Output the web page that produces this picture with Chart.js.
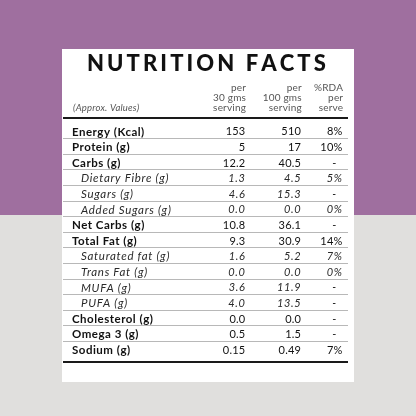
<!DOCTYPE html>
<html>
<head>
<meta charset="utf-8">
<script src="https://cdn.jsdelivr.net/npm/chart.js@4.4.0/dist/chart.umd.min.js"></script>
<style>
  html, body { margin: 0; padding: 0; background: #e0dfdd; }
  canvas { display: block; }
</style>
</head>
<body>
<canvas id="facts-chart" width="416" height="416"></canvas>
<script>
// table data
var nutrients = ['Energy (Kcal)', 'Protein (g)', 'Carbs (g)', 'Dietary Fibre (g)', 'Sugars (g)',
  'Added Sugars (g)', 'Net Carbs (g)', 'Total Fat (g)', 'Saturated fat (g)', 'Trans Fat (g)',
  'MUFA (g)', 'PUFA (g)', 'Cholesterol (g)', 'Omega 3 (g)', 'Sodium (g)'];
var subItem = [0, 0, 0, 1, 1, 1, 0, 0, 1, 1, 1, 1, 0, 0, 0];
var per30 = [153, 5, 12.2, 1.3, 4.6, 0.0, 10.8, 9.3, 1.6, 0.0, 3.6, 4.0, 0.0, 0.5, 0.15];
var per100 = [510, 17, 40.5, 4.5, 15.3, 0.0, 36.1, 30.9, 5.2, 0.0, 11.9, 13.5, 0.0, 1.5, 0.49];
var decimals = [0, 0, 1, 1, 1, 1, 1, 1, 1, 1, 1, 1, 1, 1, 2];
var rda = [8, 10, null, 5, null, 0, null, 14, 7, 0, null, null, null, null, 7];
var colHeads = [['per', '30 gms', 'serving'], ['per', '100 gms', 'serving'], ['%RDA', 'per', 'serve']];
var title = 'NUTRITION FACTS';
var note = '(Approx. Values)';

// where each column sits on the x scale (0..100)
var colX = { name: 0, per30: 64.1, per100: 84.7, rda: 100 };

function points(col, values) {
  return values.map(function (v, i) {
    return { x: colX[col], y: nutrients[i], v: v, row: i };
  });
}

function fmt(v, d) {
  if (v === null) return '-';
  return v.toFixed(d);
}

function spaced(ctx, px) {
  if ('letterSpacing' in ctx) ctx.letterSpacing = px + 'px';
}

var tablePlugin = {
  id: 'tablePlugin',
  beforeDraw: function (chart) {
    var ctx = chart.ctx;
    ctx.save();
    ctx.fillStyle = '#9f6f9f';
    ctx.fillRect(0, 0, 416, 215);
    ctx.fillStyle = '#e0dfdd';
    ctx.fillRect(0, 215, 416, 201);
    ctx.fillStyle = '#ffffff';
    ctx.fillRect(62, 49, 292, 333);
    ctx.restore();
  },
  afterDatasetsDraw: function (chart) {
    var ctx = chart.ctx;
    var xs = chart.scales.x;
    var ys = chart.scales.y;
    ctx.save();

    // title, spread out to its width
    ctx.fillStyle = '#111';
    ctx.font = '900 22px Lato, "DejaVu Sans", sans-serif';
    ctx.textBaseline = 'middle';
    ctx.textAlign = 'left';
    var plain = ctx.measureText(title).width;
    var gap = (237 - plain) / (title.length - 1);
    var tx = 87;
    for (var c = 0; c < title.length; c++) {
      ctx.fillText(title[c], tx, 64);
      tx += ctx.measureText(title[c]).width + gap;
    }

    // column headings
    ctx.fillStyle = '#555';
    ctx.font = '10px Lato, sans-serif';
    spaced(ctx, 0.2);
    ctx.textAlign = 'right';
    var headX = [colX.per30, colX.per100, colX.rda];
    var headY = [88, 97.5, 107.5];
    colHeads.forEach(function (lines, k) {
      var px = xs.getPixelForValue(headX[k]) + 0.7;
      lines.forEach(function (t, j) {
        ctx.fillText(t, px, headY[j]);
      });
    });
    ctx.textAlign = 'left';
    ctx.font = 'italic 9.5px Lato, sans-serif';
    ctx.fillText(note, 73, 108);

    // rules
    var left = 63, right = 348;
    ctx.fillStyle = '#b8b8b8';
    for (var i = 0; i < nutrients.length - 1; i++) {
      var yb = (ys.getPixelForValue(i) + ys.getPixelForValue(i + 1)) / 2 - 1.5;
      ctx.fillRect(left, Math.round(yb), right - left, 1);
    }
    ctx.fillStyle = '#1a1a1a';
    ctx.fillRect(left, 117, right - left, 2);
    ctx.fillRect(left, 361, right - left, 2);

    // cells
    chart.data.datasets.forEach(function (ds, di) {
      var meta = chart.getDatasetMeta(di);
      meta.data.forEach(function (pt, i) {
        var d = ds.data[i];
        var sub = subItem[d.row] === 1;
        ctx.fillStyle = sub ? '#2a2a2a' : '#111';
        if (ds.kind === 'name') {
          ctx.textAlign = 'left';
          ctx.font = sub ? 'italic 11.5px Lato, sans-serif' : 'bold 11.5px Lato, sans-serif';
          spaced(ctx, sub ? 0.7 : 0.5);
          ctx.fillText(d.v, pt.x + (sub ? 9 : 0), pt.y);
        } else {
          var txt = ds.kind === 'rda' ? (d.v === null ? '-' : d.v + '%') : fmt(d.v, decimals[d.row]);
          ctx.font = (sub ? 'italic ' : '') + '11px Lato, sans-serif';
          spaced(ctx, sub ? 0.6 : 0.2);
          if (txt === '-') {
            ctx.textAlign = 'center';
            ctx.fillText(txt, ds.kind === 'rda' ? pt.x - 8 : pt.x - 4, pt.y);
          } else {
            ctx.textAlign = 'right';
            ctx.fillText(txt, pt.x, pt.y);
          }
        }
      });
    });
    ctx.restore();
  }
};

var ctx = document.getElementById('facts-chart').getContext('2d');
var factsChart = new Chart(ctx, {
  type: 'scatter',
  data: {
    datasets: [
      { label: 'Nutrient', kind: 'name', data: points('name', nutrients), pointRadius: 0 },
      { label: 'per 30 gms serving', kind: 'per30', data: points('per30', per30), pointRadius: 0 },
      { label: 'per 100 gms serving', kind: 'per100', data: points('per100', per100), pointRadius: 0 },
      { label: '%RDA per serve', kind: 'rda', data: points('rda', rda), pointRadius: 0 }
    ]
  },
  options: {
    responsive: false,
    animation: false,
    layout: { padding: { left: 72, right: 73.5, top: 124, bottom: 58 } },
    plugins: { legend: { display: false }, tooltip: { enabled: false } },
    scales: {
      x: { type: 'linear', min: 0, max: 100, display: false },
      y: { type: 'category', labels: nutrients, offset: true, display: false }
    }
  },
  plugins: [tablePlugin]
});
</script>
</body>
</html>
